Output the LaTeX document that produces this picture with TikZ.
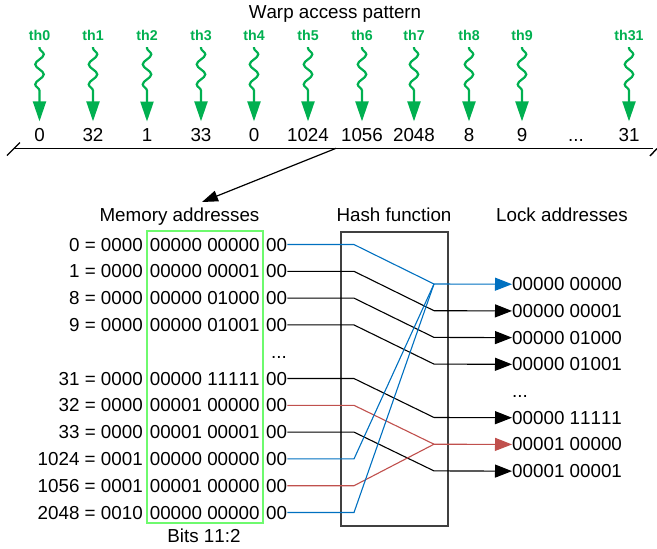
\documentclass[tikz,border=0pt]{standalone}
\usepackage{fontspec}
\setmainfont{Liberation Sans}[Kerning=Off]
\usetikzlibrary{arrows.meta,decorations.pathmorphing}
\definecolor{thgreen}{RGB}{0,176,80}
\definecolor{boxgreen}{RGB}{110,250,110}
\definecolor{lblue}{RGB}{0,112,192}
\definecolor{lred}{RGB}{192,80,77}
\definecolor{hashgray}{RGB}{64,64,64}
\begin{document}
\begin{tikzpicture}[x=1pt,y=-1pt,
  txt/.style={inner sep=0pt, font=\fontsize{18.8}{21}\selectfont, anchor=base},
  num/.style={txt, outer ysep=7pt},
  thlab/.style={inner sep=0pt, outer ysep=6.5pt, anchor=base, text=thgreen, font=\fontsize{14.2}{16}\selectfont\bfseries},
  thread/.style={thgreen, line width=2.2pt, decorate,
    decoration={snake, amplitude=4.3pt, segment length=20pt, pre length=1pt, post length=22pt},
    -{Triangle[length=20pt,width=13pt]}},
  conn/.style={line width=1.1pt},
  lockarrow/.style={line width=1.1pt, -{Triangle[length=17pt,width=13pt]}},
]
\useasboundingbox (0,0) rectangle (657,549);

% title
\node[txt] (title) at (335,18.3) {Warp access pattern};

% threads
\foreach \i/\x/\n in {0/39.5/0, 1/93/32, 2/147/1, 3/201/33, 4/254/0, 5/308/1024, 6/362/1056, 7/414/2048, 8/469/8, 9/522/9, 31/629/31}
{
  \node[thlab] (th\i) at (\x,40.5) {th\i};
  \node[num] (n\i) at (\x,141.5) {\n};
  \draw[thread] (th\i.south) -- (n\i.north);
}
\node[txt] (ndots) at (576,141.5) {...};

% axis line with break ticks
\coordinate (axl) at (14,148.3);
\coordinate (axr) at (653,148.3);
\draw[line width=1.4pt] (axl) -- (axr);
\draw[line width=1.4pt] (7,155.5) -- (20,142.5);
\draw[line width=1.4pt] (650,156) -- (657,148.5);

% pointer to memory addresses
\coordinate (axa) at (336,148.3);
\coordinate (mta) at (202,202);
\draw[line width=1.2pt, -{Triangle[length=16pt,width=11pt]}] (axa) -- (mta);

% column titles
\node[txt] (memt) at (179.5,221) {Memory addresses};
\node[txt] (hasht) at (394,221) {Hash function};
\node[txt] (lockt) at (562,221) {Lock addresses};

% hash box
\node[draw=hashgray, line width=1.5pt, inner sep=0pt, minimum width=107pt, minimum height=294pt] (hash) at (394.5,379) {};

% bits box
\node[draw=boxgreen, line width=2pt, inner sep=0pt, minimum width=116pt, minimum height=292pt] (bits) at (205,377) {};
\node[txt] (bitsl) at (204,542.7) {Bits 11:2};

% memory rows
\foreach \k/\a/\b/\c in {0/0/0000/00000 00000, 1/1/0000/00000 00001, 2/8/0000/00000 01000, 3/9/0000/00000 01001, 5/31/0000/00000 11111, 6/32/0000/00001 00000, 7/33/0000/00001 00001, 8/1024/0001/00000 00000, 9/1056/0001/00001 00000, 10/2048/0010/00000 00000}
{
  \pgfmathsetmacro\yb{251+26.8*\k}
  \node[txt, anchor=base east] (ma\k) at (143,\yb) {\a\ = \b};
  \node[txt] (mb\k) at (204.7,\yb) {\c};
  \node[txt, anchor=base west] (mc\k) at (266,\yb) {00};
}
\node[txt, anchor=base west] (mdots) at (271,358.2) {...};

% lock rows
\foreach \k/\t in {0/00000 00000, 1/00000 00001, 2/00000 01000, 3/00000 01001, 5/00000 11111, 6/00001 00000, 7/00001 00001}
{
  \pgfmathsetmacro\yb{290.7+26.7*\k}
  \node[txt, anchor=base west] (lk\k) at (512,\yb) {\t};
  \coordinate (j\k) at (434,\yb-6.7);
}
\node[txt, anchor=base west] (ldots) at (512,397.5) {...};

% bend x
\coordinate (bx) at (354,0);

% connections
\foreach \m/\j in {1/1, 2/2, 3/3, 5/5, 7/7}
  \draw[conn, black] (mc\m.east) -- (mc\m.east -| bx) -- (j\j);
\foreach \m/\j in {6/6, 9/6}
  \draw[conn, lred] (mc\m.east) -- (mc\m.east -| bx) -- (j\j);
\foreach \m/\j in {0/0, 8/0, 10/0}
  \draw[conn, lblue] (mc\m.east) -- (mc\m.east -| bx) -- (j\j);

% lock arrows
\draw[lockarrow, lblue] (j0) -- (lk0.west);
\foreach \k in {1,2,3,5,7}
  \draw[lockarrow, black] (j\k) -- (lk\k.west);
\draw[lockarrow, lred] (j6) -- (lk6.west);
\end{tikzpicture}
\end{document}
